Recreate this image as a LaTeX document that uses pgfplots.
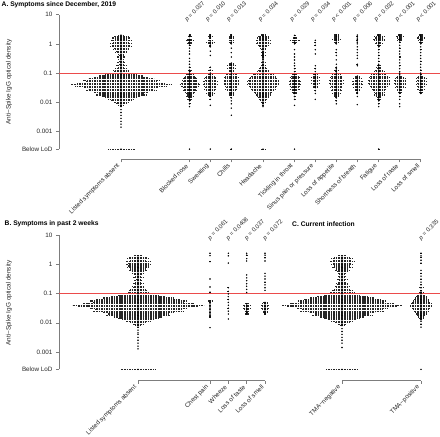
\documentclass[border=0pt]{standalone}
\usepackage{pgfplots}
\pgfplotsset{compat=1.18}
\usepackage{fontspec}
\setmainfont{Liberation Sans}
\definecolor{axg}{RGB}{125,125,125}
\newcommand\tlf{\fontsize{6.3bp}{7bp}\selectfont}
\newcommand\plf{\fontsize{6bp}{7bp}\selectfont}
\newcommand\ttlf{\fontsize{6.7bp}{8bp}\selectfont\bfseries}
\tikzset{pval/.style={font=\plf, text=black!85, rotate=45, anchor=south west, inner sep=0.5bp},
 refline/.style={draw={rgb,255:red,235;green,75;blue,75}, line width=0.8bp}}
\pgfplotsset{
 myswarm/.style={only marks, mark=*, mark size=0.5bp, mark options={draw=none, fill=black!85},
  error bars/x dir=both, error bars/x explicit, error bars/error mark=none,
  error bars/error bar style={line width=1.1bp, black!85, dash pattern=on 1.05bp off 0.6bp}},
}
\begin{document}
\begin{tikzpicture}
\useasboundingbox (0,0) rectangle (440bp,437bp);
% ---------------- Panel A ----------------
\begin{axis}[ymode=log, scale only axis, clip=false, xmin=59, xmax=440, width=381bp,
  axis x line*=bottom, axis y line*=left,
  x axis line style={draw=none}, y axis line style={draw=none},
  tick align=outside, major tick length=3bp, tick style={draw=axg, line width=0.5bp},
  ytick={0.000251,0.001,0.01,0.1,1,10}, yticklabels={Below LoD,0.001,0.01,0.1,1,10},
  yticklabel style={font=\tlf, text=black!85},
  xticklabel style={font=\tlf, text=black!85, rotate=45, anchor=east},
 at={(59bp,437bp)}, anchor=north west, height=159.5bp,
 ymin=1.104e-4, ymax=31.62,
 xtick={121,189.5,210.3,231.3,263,294.5,315.3,336.3,357.3,378.7,399.7,420.7},
 xticklabels={Listed symptoms absent,Blocked nose,Sweating,Chills,Headache,Tickling in throat,Sinus pain or pressure,Loss of appetite,Shortness of breath,Fatigue,Loss of taste,Loss of smell}]
% Listed symptoms absent
\addplot[myswarm] table[row sep=\\, x expr=121, y=v, x error=w] {v w\\
1.995 3\\ 1.778 7\\ 1.585 9\\ 1.413 6\\ 1.259 10\\ 1.122 8\\ 1.000 11\\ 0.891 9\\ 0.794 11\\ 0.708 7\\
0.631 8\\ 0.562 5\\ 0.501 6\\ 0.447 3\\ 0.398 2\\ 0.355 4\\ 0.316 1\\ 0.282 3\\ 0.251 2\\ 0.224 4\\
0.200 2\\ 0.178 5\\ 0.158 3\\ 0.141 6\\ 0.126 8\\ 0.112 7\\ 0.100 10\\ 0.0891 16\\ 0.0794 22\\ 0.0708 27\\
0.0631 33\\ 0.0562 38\\ 0.0501 35\\ 0.0447 44\\ 0.0398 50\\ 0.0355 46\\ 0.0316 37\\ 0.0282 33\\ 0.0251 35\\ 0.0224 27\\
0.0200 23\\ 0.0178 25\\ 0.0158 19\\ 0.0141 16\\ 0.0126 13\\ 0.0112 10\\ 0.0100 7\\ 0.00891 5\\ 0.00794 3\\ 0.00708 1\\
0.00562 0\\ 0.00447 0\\ 0.00355 0\\ 0.00282 0\\ 0.00224 0\\ 0.00178 0\\ 0.00141 0\\ 0.000251 13.5\\};
% Blocked nose
\addplot[myswarm] table[row sep=\\, x expr=189.5, y=v, x error=w] {v w\\
2.0 1\\ 1.78 2\\ 1.41 3\\ 1.26 4\\ 1.12 2\\ 1.0 3\\ 0.89 1\\ 0.71 0\\ 0.56 0\\ 0.45 0\\ 0.32 0\\ 0.25 0\\ 0.2 0\\
0.158 1\\ 0.126 2\\ 0.112 1\\ 0.100 3\\ 0.089 4\\ 0.079 5\\ 0.071 6\\ 0.063 7\\ 0.056 8\\ 0.050 7\\ 0.045 9\\ 0.040 10\\
0.0355 9\\ 0.0316 7\\ 0.028 6\\ 0.025 7\\ 0.022 5\\ 0.020 4\\ 0.0178 3\\ 0.0158 4\\ 0.0141 2\\ 0.0126 3\\ 0.0112 1\\
0.0089 1\\ 0.0071 0\\ 0.000251 0\\};
% Sweating
\addplot[myswarm] table[row sep=\\, x expr=210.3, y=v, x error=w] {v w\\
2.0 1\\ 1.78 2\\ 1.58 1\\ 1.26 3\\ 1.12 4\\ 1.0 2\\ 0.89 1\\ 0.79 1\\ 0.56 0\\ 0.40 0\\
0.158 1\\ 0.126 2\\ 0.100 3\\ 0.089 2\\ 0.079 4\\ 0.071 5\\ 0.063 6\\ 0.056 5\\ 0.050 7\\ 0.045 6\\ 0.040 7\\
0.0355 6\\ 0.0316 5\\ 0.028 6\\ 0.025 4\\ 0.022 3\\ 0.020 4\\ 0.0178 2\\ 0.0158 1\\ 0.0126 1\\ 0.0079 0\\ 0.000251 0\\};
% Chills
\addplot[myswarm] table[row sep=\\, x expr=231.3, y=v, x error=w] {v w\\
2.0 1\\ 1.78 3\\ 1.58 2\\ 1.26 3\\ 1.12 2\\ 1.0 1\\ 0.71 0\\ 0.5 0\\ 0.355 0\\
0.22 2\\ 0.2 3\\ 0.178 4\\ 0.158 3\\ 0.141 4\\ 0.126 3\\ 0.112 2\\
0.100 4\\ 0.089 5\\ 0.079 6\\ 0.071 7\\ 0.063 6\\ 0.056 8\\ 0.050 7\\ 0.045 8\\ 0.040 7\\ 0.0355 6\\ 0.0316 5\\
0.028 6\\ 0.025 4\\ 0.022 3\\ 0.020 3\\ 0.0178 2\\ 0.0141 1\\ 0.0112 0\\ 0.0089 0\\ 0.0063 0\\ 0.0036 0\\ 0.000251 1.5\\};
% Headache
\addplot[myswarm] table[row sep=\\, x expr=263, y=v, x error=w] {v w\\
2.0 2\\ 1.78 5\\ 1.58 6\\ 1.41 4\\ 1.26 7\\ 1.12 6\\ 1.0 7\\ 0.89 5\\ 0.79 4\\ 0.71 3\\
0.63 2\\ 0.56 1\\ 0.5 2\\ 0.45 1\\ 0.4 2\\ 0.355 1\\ 0.316 0\\ 0.282 1\\ 0.251 0\\ 0.224 2\\ 0.2 1\\ 0.178 2\\
0.158 3\\ 0.141 4\\ 0.126 5\\ 0.112 6\\ 0.100 8\\ 0.089 10\\ 0.079 12\\ 0.071 13\\ 0.063 14\\ 0.056 15\\ 0.050 16\\
0.045 15\\ 0.040 16\\ 0.0355 14\\ 0.0316 13\\ 0.028 12\\ 0.025 11\\ 0.022 9\\ 0.020 8\\ 0.0178 7\\ 0.0158 6\\
0.0141 5\\ 0.0126 4\\ 0.0112 3\\ 0.0100 2\\ 0.0089 1\\ 0.0079 1\\ 0.0071 0\\ 0.000251 2.5\\};
% Tickling in throat
\addplot[myswarm] table[row sep=\\, x expr=294.5, y=v, x error=w] {v w\\
1.95 1\\ 1.58 2\\ 1.26 5\\ 1.12 3\\ 1.0 1\\ 0.63 0\\ 0.45 0\\ 0.355 0\\ 0.28 0\\ 0.22 0\\ 0.178 0\\ 0.141 1\\ 0.112 1\\
0.089 3\\ 0.079 4\\ 0.071 5\\ 0.063 4\\ 0.056 5\\ 0.050 6\\ 0.045 5\\ 0.040 6\\ 0.0355 5\\ 0.0316 4\\ 0.028 5\\
0.025 3\\ 0.022 3\\ 0.020 2\\ 0.0158 1\\ 0.0126 1\\ 0.0078 0\\ 0.000251 0\\};
% Sinus pain or pressure
\addplot[myswarm] table[row sep=\\, x expr=315.3, y=v, x error=w] {v w\\
1.32 0\\ 1.1 1\\ 0.89 1\\ 0.63 0\\ 0.45 0\\ 0.178 0\\ 0.141 1\\ 0.112 0\\ 0.089 2\\ 0.079 3\\ 0.071 4\\ 0.063 3\\
0.056 4\\ 0.050 3\\ 0.045 4\\ 0.040 3\\ 0.0355 2\\ 0.0316 3\\ 0.025 1\\ 0.0200 0\\ 0.0126 0\\};
% Loss of appetite
\addplot[myswarm] table[row sep=\\, x expr=336.3, y=v, x error=w] {v w\\
2.0 2\\ 1.78 3\\ 1.58 2\\ 1.41 4\\ 1.26 3\\ 1.12 2\\ 1.0 1\\ 0.63 0\\ 0.5 1\\ 0.4 0\\ 0.282 0\\ 0.2 0\\
0.158 1\\ 0.141 0\\ 0.126 2\\ 0.112 1\\ 0.100 3\\ 0.089 4\\ 0.079 5\\ 0.071 6\\ 0.063 5\\ 0.056 7\\ 0.050 6\\
0.045 7\\ 0.040 6\\ 0.0355 5\\ 0.0316 6\\ 0.028 4\\ 0.025 5\\ 0.022 3\\ 0.020 4\\ 0.0178 2\\ 0.0158 3\\ 0.0141 1\\
0.0112 1\\ 0.0089 0\\};
% Shortness of breath
\addplot[myswarm] table[row sep=\\, x expr=357.3, y=v, x error=w] {v w\\
2.0 0\\ 1.78 1\\ 1.58 0\\ 1.41 0\\ 1.26 1\\ 1.12 0\\ 1.0 0\\ 0.79 0\\ 0.63 0\\ 0.5 0\\ 0.40 0\\ 0.32 0\\ 0.2 1\\
0.178 0\\ 0.079 2\\ 0.071 3\\ 0.063 4\\ 0.056 3\\ 0.050 5\\ 0.045 4\\ 0.040 5\\ 0.0355 3\\ 0.0316 4\\ 0.028 2\\
0.025 3\\ 0.022 1\\ 0.020 1\\ 0.0158 0\\ 0.0083 0\\};
% Fatigue
\addplot[myswarm] table[row sep=\\, x expr=378.7, y=v, x error=w] {v w\\
2.0 2\\ 1.78 5\\ 1.58 4\\ 1.41 6\\ 1.26 5\\ 1.12 3\\ 1.0 4\\ 0.89 2\\ 0.79 1\\ 0.63 1\\ 0.5 0\\ 0.4 1\\ 0.316 0\\
0.251 1\\ 0.2 0\\ 0.178 2\\ 0.158 3\\ 0.141 2\\ 0.126 4\\ 0.112 5\\ 0.100 6\\ 0.089 8\\ 0.079 9\\ 0.071 10\\
0.063 9\\ 0.056 11\\ 0.050 10\\ 0.045 11\\ 0.040 10\\ 0.0355 9\\ 0.0316 8\\ 0.028 7\\ 0.025 6\\ 0.022 5\\ 0.020 4\\
0.0178 5\\ 0.0158 3\\ 0.0141 2\\ 0.0126 2\\ 0.0112 1\\ 0.0089 1\\ 0.0071 0\\ 0.000251 1.5\\};
% Loss of taste
\addplot[myswarm] table[row sep=\\, x expr=399.7, y=v, x error=w] {v w\\
2.0 2\\ 1.78 4\\ 1.58 3\\ 1.41 2\\ 1.26 3\\ 1.12 1\\ 0.89 0\\ 0.71 1\\ 0.56 0\\ 0.45 0\\ 0.355 1\\ 0.282 0\\
0.224 0\\ 0.178 1\\ 0.141 0\\ 0.112 0\\ 0.100 1\\ 0.089 0\\ 0.079 3\\ 0.071 4\\ 0.063 5\\ 0.056 6\\ 0.050 5\\
0.045 6\\ 0.040 5\\ 0.0355 4\\ 0.0316 5\\ 0.028 3\\ 0.025 3\\ 0.022 2\\ 0.020 1\\ 0.0158 1\\ 0.0126 0\\ 0.0089 0\\
0.0071 0\\};
% Loss of smell
\addplot[myswarm] table[row sep=\\, x expr=420.7, y=v, x error=w] {v w\\
2.0 2\\ 1.78 3\\ 1.58 4\\ 1.41 2\\ 1.26 3\\ 1.12 2\\ 1.0 1\\ 0.79 0\\ 0.63 1\\ 0.5 0\\ 0.398 0\\ 0.316 0\\
0.251 1\\ 0.2 0\\ 0.158 0\\ 0.126 1\\ 0.100 0\\ 0.089 1\\ 0.079 3\\ 0.071 4\\ 0.063 5\\ 0.056 4\\ 0.050 5\\
0.045 4\\ 0.040 5\\ 0.0355 4\\ 0.0316 3\\ 0.028 4\\ 0.025 2\\ 0.022 2\\ 0.020 1\\};
% spines, reference line, p-values
\draw[draw=axg, line width=0.5bp] (axis cs:121,1.104e-4) -- (axis cs:420.7,1.104e-4);
\draw[draw=axg, line width=0.5bp] (axis cs:59,0.000251) -- (axis cs:59,10);
\draw[refline] (axis cs:59,0.1) -- (axis cs:440,0.1);
\node[pval] at (axis cs:188,5.0) {\textit{p} = 0.027};
\node[pval] at (axis cs:208.8,5.0) {\textit{p} = 0.010};
\node[pval] at (axis cs:229.8,5.0) {\textit{p} = 0.013};
\node[pval] at (axis cs:261.5,5.0) {\textit{p} = 0.034};
\node[pval] at (axis cs:293,5.0) {\textit{p} = 0.029};
\node[pval] at (axis cs:313.8,5.0) {\textit{p} = 0.034};
\node[pval] at (axis cs:334.8,5.0) {\textit{p} < 0.001};
\node[pval] at (axis cs:355.8,5.0) {\textit{p} = 0.006};
\node[pval] at (axis cs:377.2,5.0) {\textit{p} = 0.032};
\node[pval] at (axis cs:398.2,5.0) {\textit{p} < 0.001};
\node[pval] at (axis cs:419.2,5.0) {\textit{p} < 0.001};
\end{axis}
% ---------------- Panels B and C ----------------
\begin{axis}[ymode=log, scale only axis, clip=false, xmin=59, xmax=440, width=381bp,
  axis x line*=bottom, axis y line*=left,
  x axis line style={draw=none}, y axis line style={draw=none},
  tick align=outside, major tick length=3bp, tick style={draw=axg, line width=0.5bp},
  ytick={0.000251,0.001,0.01,0.1,1,10}, yticklabels={Below LoD,0.001,0.01,0.1,1,10},
  yticklabel style={font=\tlf, text=black!85},
  xticklabel style={font=\tlf, text=black!85, rotate=45, anchor=east},
 at={(59bp,221bp)}, anchor=north west, height=164.7bp,
 ymin=1.02e-4, ymax=46.8,
 xtick={138,210,228.3,246.7,265,342,421},
 xticklabels={Listed symptoms absent,Chest pain,Wheeze,Loss of taste,Loss of smell,TMA−negative,TMA−positive}]
% B: Listed symptoms absent
\addplot[myswarm] table[row sep=\\, x expr=138, y=v, x error=w] {v w\\
1.995 4\\ 1.778 9\\ 1.585 11\\ 1.413 8\\ 1.259 12\\ 1.122 10\\ 1.000 12\\ 0.891 10\\ 0.794 11\\ 0.708 8\\
0.631 9\\ 0.562 6\\ 0.501 6\\ 0.447 4\\ 0.398 3\\ 0.355 5\\ 0.316 2\\ 0.282 4\\ 0.251 3\\ 0.224 5\\
0.200 3\\ 0.178 6\\ 0.158 5\\ 0.141 8\\ 0.126 9\\ 0.112 10\\ 0.100 13\\ 0.0891 20\\ 0.0794 28\\ 0.0708 35\\
0.0631 42\\ 0.0562 48\\ 0.0501 45\\ 0.0447 56\\ 0.0398 66\\ 0.0355 60\\ 0.0316 48\\ 0.0282 43\\ 0.0251 45\\ 0.0224 35\\
0.0200 30\\ 0.0178 32\\ 0.0158 24\\ 0.0141 20\\ 0.0126 16\\ 0.0112 12\\ 0.0100 8\\ 0.00891 5\\ 0.00794 3\\ 0.00708 1\\
0.00562 0\\ 0.00447 0\\ 0.00398 0\\ 0.00316 0\\ 0.00251 0\\ 0.00200 0\\ 0.00158 0\\ 0.00126 0\\ 0.000251 17\\};
% Chest pain
\addplot[myswarm] table[row sep=\\, x expr=210, y=v, x error=w] {v w\\
2.45 0\\ 2.03 0\\ 1.26 1\\ 0.32 0\\ 0.17 0\\ 0.112 1\\ 0.0562 2\\ 0.0501 1\\ 0.0447 0\\ 0.0398 1\\ 0.0355 0\\
0.0316 0\\ 0.0282 1\\ 0.0251 0\\ 0.0224 1\\ 0.0200 0\\ 0.0178 0\\ 0.0158 1\\ 0.0068 0\\};
% Wheeze
\addplot[myswarm] table[row sep=\\, x expr=228.3, y=v, x error=w] {v w\\
2.45 0\\ 2.0 0\\ 1.13 0\\ 0.16 1\\ 0.12 1\\ 0.098 0\\ 0.079 0\\ 0.063 1\\ 0.050 0\\ 0.040 0\\ 0.0316 1\\ 0.025 0\\
0.020 0\\ 0.0135 0\\};
% Loss of taste
\addplot[myswarm] table[row sep=\\, x expr=246.7, y=v, x error=w] {v w\\
2.45 0\\ 2.1 1\\ 1.6 0\\ 1.33 0\\ 0.44 0\\ 0.35 0\\ 0.28 0\\ 0.22 0\\ 0.18 0\\ 0.14 0\\ 0.11 0\\ 0.0447 2\\
0.0398 4\\ 0.0355 3\\ 0.0316 4\\ 0.0282 3\\ 0.0251 2\\ 0.0224 1\\ 0.0200 2\\};
% Loss of smell
\addplot[myswarm] table[row sep=\\, x expr=265, y=v, x error=w] {v w\\
2.45 0\\ 2.1 0\\ 1.7 1\\ 1.33 0\\ 0.5 0\\ 0.40 0\\ 0.32 0\\ 0.25 1\\ 0.2 0\\ 0.16 0\\ 0.13 0\\ 0.0501 2\\
0.0447 3\\ 0.0398 4\\ 0.0355 3\\ 0.0316 4\\ 0.0282 3\\ 0.0251 2\\ 0.0224 2\\ 0.0200 1\\};
% C: TMA-negative
\addplot[myswarm] table[row sep=\\, x expr=342, y=v, x error=w] {v w\\
1.995 4\\ 1.778 8\\ 1.585 11\\ 1.413 9\\ 1.259 12\\ 1.122 9\\ 1.000 11\\ 0.891 8\\ 0.794 10\\ 0.708 6\\
0.631 7\\ 0.562 5\\ 0.501 4\\ 0.447 3\\ 0.398 4\\ 0.355 3\\ 0.316 5\\ 0.282 3\\ 0.251 4\\ 0.224 6\\
0.200 5\\ 0.178 7\\ 0.158 6\\ 0.141 8\\ 0.126 10\\ 0.112 12\\ 0.100 13\\ 0.0891 18\\ 0.0794 25\\ 0.0708 32\\
0.0631 38\\ 0.0562 44\\ 0.0501 42\\ 0.0447 52\\ 0.0398 61\\ 0.0355 55\\ 0.0316 45\\ 0.0282 40\\ 0.0251 42\\ 0.0224 33\\
0.0200 28\\ 0.0178 30\\ 0.0158 22\\ 0.0141 18\\ 0.0126 14\\ 0.0112 11\\ 0.0100 7\\ 0.00891 4\\ 0.00794 2\\
0.00631 0\\ 0.00501 0\\ 0.00398 0\\ 0.00316 0\\ 0.00251 0\\ 0.00200 0\\ 0.00141 0\\ 0.000251 16\\};
% C: TMA-positive
\addplot[myswarm] table[row sep=\\, x expr=421, y=v, x error=w] {v w\\
2.45 1\\ 2.0 0\\ 1.78 1\\ 1.41 0\\ 1.12 1\\ 0.63 0\\ 0.5 1\\ 0.4 0\\ 0.316 1\\ 0.25 0\\ 0.2 1\\ 0.158 2\\
0.126 1\\ 0.112 2\\ 0.100 3\\ 0.089 4\\ 0.079 5\\ 0.071 6\\ 0.063 7\\ 0.056 8\\ 0.050 9\\ 0.045 10\\ 0.040 11\\
0.0355 11\\ 0.0316 9\\ 0.028 8\\ 0.025 7\\ 0.022 6\\ 0.020 5\\ 0.0178 4\\ 0.0158 3\\ 0.0141 2\\ 0.0126 1\\
0.0112 0\\ 0.0089 1\\ 0.0071 0\\ 0.000251 0\\};
\draw[draw=axg, line width=0.5bp] (axis cs:138,1.02e-4) -- (axis cs:265,1.02e-4);
\draw[draw=axg, line width=0.5bp] (axis cs:342,1.02e-4) -- (axis cs:421,1.02e-4);
\draw[draw=axg, line width=0.5bp] (axis cs:59,0.000251) -- (axis cs:59,10);
\draw[refline] (axis cs:59,0.1) -- (axis cs:440,0.1);
\node[pval] at (axis cs:211,6.0) {\textit{p} = 0.061};
\node[pval] at (axis cs:229.3,6.0) {\textit{p} = 0.0408};
\node[pval] at (axis cs:247.7,6.0) {\textit{p} = 0.037};
\node[pval] at (axis cs:266,6.0) {\textit{p} = 0.072};
\node[pval] at (axis cs:422,6.0) {\textit{p} = 0.335};
\end{axis}
% titles and axis labels
\node[anchor=west, inner sep=0pt, font=\ttlf] at (1.5bp,432bp) {A. Symptoms since December, 2019};
\node[anchor=west, inner sep=0pt, font=\ttlf] at (4.5bp,213bp) {B. Symptoms in past 2 weeks};
\node[anchor=west, inner sep=0pt, font=\ttlf] at (292bp,213bp) {C. Current infection};
\node[rotate=90, inner sep=0pt, font=\fontsize{6.4bp}{7bp}\selectfont, text=black!85] at (9bp,355bp) {Anti−Spike IgG optical density};
\node[rotate=90, inner sep=0pt, font=\fontsize{6.4bp}{7bp}\selectfont, text=black!85] at (9bp,134bp) {Anti−Spike IgG optical density};
\end{tikzpicture}
\end{document}
